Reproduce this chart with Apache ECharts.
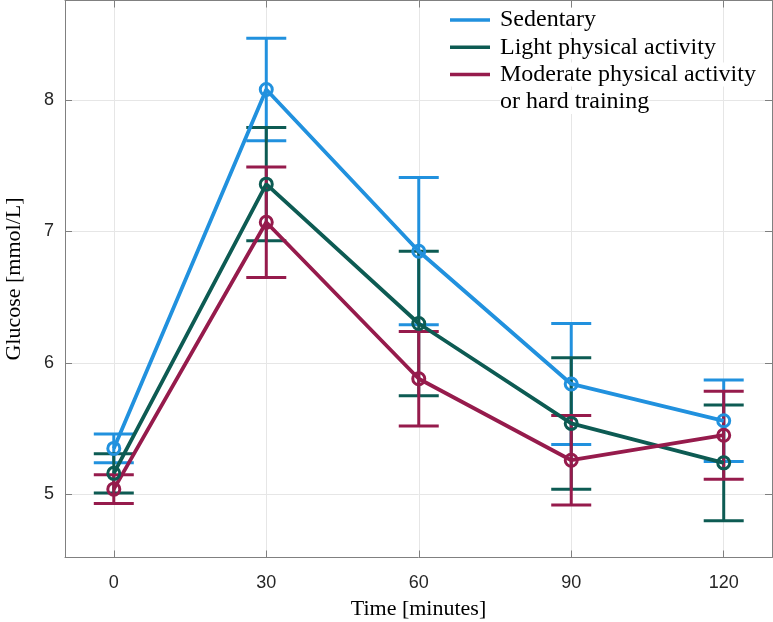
<!DOCTYPE html>
<html>
<head>
<meta charset="utf-8">
<script src="https://cdn.jsdelivr.net/npm/echarts@6/dist/echarts.min.js"></script>
<style>
  html, body { margin: 0; padding: 0; background: #fff; }
  #chartDiv { width: 773px; height: 622px; }
</style>
</head>
<body>
<div id="chartDiv"></div>
<script>
// 初始化图表
let myChart = echarts.init(document.getElementById('chartDiv'));
window.onresize = myChart.resize;

// 数据
const times = [0, 30, 60, 90, 120];
const names = ['Sedentary', 'Light physical activity', 'Moderate physical activity'];
const colors = ['#2191de', '#0d5b53', '#961b4c'];

const sedMean = [5.35, 8.08, 6.85, 5.84, 5.56];
const sedErr  = [0.11, 0.39, 0.56, 0.46, 0.31];
const lightMean = [5.16, 7.36, 6.30, 5.54, 5.24];
const lightErr  = [0.15, 0.43, 0.55, 0.50, 0.44];
const modMean = [5.04, 7.07, 5.88, 5.26, 5.45];
const modErr  = [0.11, 0.42, 0.36, 0.34, 0.335];

const xTicks = [0, 30, 60, 90, 120];
const yTicks = [5, 6, 7, 8];

const means = [sedMean, lightMean, modMean];
const errs = [sedErr, lightErr, modErr];

const axisColor = '#808080';
const serif = 'Liberation Serif';

function errorSeries(idx) {
    let data = times.map((t, i) => [t, means[idx][i], errs[idx][i]]);
    return {
        type: 'custom',
        name: names[idx] + ' err',
        data: data,
        encode: {x: 0, y: 1},
        renderItem: function (params, api) {
            let x = api.value(0), m = api.value(1), e = api.value(2);
            let top = api.coord([x, m + e]);
            let bot = api.coord([x, m - e]);
            let hw = 20;
            let style = {stroke: colors[idx], lineWidth: 3};
            return {
                type: 'group',
                children: [
                    {type: 'line', shape: {x1: top[0], y1: top[1], x2: bot[0], y2: bot[1]}, style: style},
                    {type: 'line', shape: {x1: top[0] - hw, y1: top[1], x2: top[0] + hw, y2: top[1]}, style: style},
                    {type: 'line', shape: {x1: bot[0] - hw, y1: bot[1], x2: bot[0] + hw, y2: bot[1]}, style: style}
                ]
            };
        },
        silent: true
    };
}

function lineSeries(idx) {
    return {
        type: 'line',
        name: names[idx],
        data: times.map((t, i) => [t, means[idx][i]]),
        symbol: 'circle',
        symbolSize: 12,
        lineStyle: {color: colors[idx], width: 3.8},
        itemStyle: {color: 'rgba(0,0,0,0)', borderColor: colors[idx], borderWidth: 3},
        emphasis: {disabled: true}
    };
}

let series = [];
for (let i = 0; i < 3; i++) {
    series.push(errorSeries(i));
    series.push(lineSeries(i));
}

let option = {
    backgroundColor: '#fff',
    animation: false,
    grid: {left: 65, right: 1, top: 0.5, bottom: 64.5, outerBoundsMode: 'none'},
    legend: {
        orient: 'vertical',
        left: 445,
        top: 3,
        icon: 'rect',
        itemWidth: 40,
        itemHeight: 3.5,
        itemGap: 3.3,
        selectedMode: false,
        data: names.map((n, i) => ({name: n, itemStyle: {color: colors[i], borderWidth: 0}})),
        textStyle: {fontFamily: serif, fontSize: 24, lineHeight: 24, color: '#000',
            backgroundColor: '#fff', padding: [0, 0, 0, 5]}
    },
    graphic: [{
        type: 'text',
        left: 500,
        top: 90,
        z: 10,
        style: {text: 'or hard training', font: '24px "Liberation Serif"', fill: '#000',
            backgroundColor: '#fff'}
    }],
    xAxis: [{
        type: 'value',
        min: -9.6,
        max: 129.5,
        name: 'Time [minutes]',
        nameLocation: 'middle',
        nameGap: 41,
        nameTextStyle: {fontFamily: serif, fontSize: 22, color: '#000'},
        axisLine: {show: true, lineStyle: {color: axisColor}},
        axisTick: {show: true, inside: true, length: 7, customValues: xTicks, lineStyle: {color: axisColor}},
        axisLabel: {customValues: xTicks, margin: 17, fontFamily: 'Liberation Sans', fontSize: 18, color: '#262626'},
        splitLine: {show: true, lineStyle: {color: '#e6e6e6', width: 1}}
    }, {
        type: 'value',
        position: 'top',
        min: -9.6,
        max: 129.5,
        axisLine: {show: true, onZero: false, lineStyle: {color: axisColor}},
        axisTick: {show: true, inside: true, length: 7, customValues: xTicks, lineStyle: {color: axisColor}},
        axisLabel: {show: false},
        splitLine: {show: false}
    }],
    yAxis: [{
        type: 'value',
        min: 4.52,
        max: 8.757,
        name: 'Glucose [mmol/L]',
        nameLocation: 'middle',
        nameGap: 40,
        nameTextStyle: {fontFamily: serif, fontSize: 22, color: '#000'},
        axisLine: {show: true, onZero: false, lineStyle: {color: axisColor}},
        axisTick: {show: true, inside: true, length: 7, customValues: yTicks, lineStyle: {color: axisColor}},
        axisLabel: {customValues: yTicks, margin: 11, fontFamily: 'Liberation Sans', fontSize: 18, color: '#262626'},
        splitLine: {show: true, lineStyle: {color: '#e6e6e6', width: 1}}
    }, {
        type: 'value',
        position: 'right',
        min: 4.52,
        max: 8.757,
        axisLine: {show: true, onZero: false, lineStyle: {color: axisColor}},
        axisTick: {show: true, inside: true, length: 7, customValues: yTicks, lineStyle: {color: axisColor}},
        axisLabel: {show: false},
        splitLine: {show: false}
    }],
    series: series
};
myChart.setOption(option);
</script>
</body>
</html>
